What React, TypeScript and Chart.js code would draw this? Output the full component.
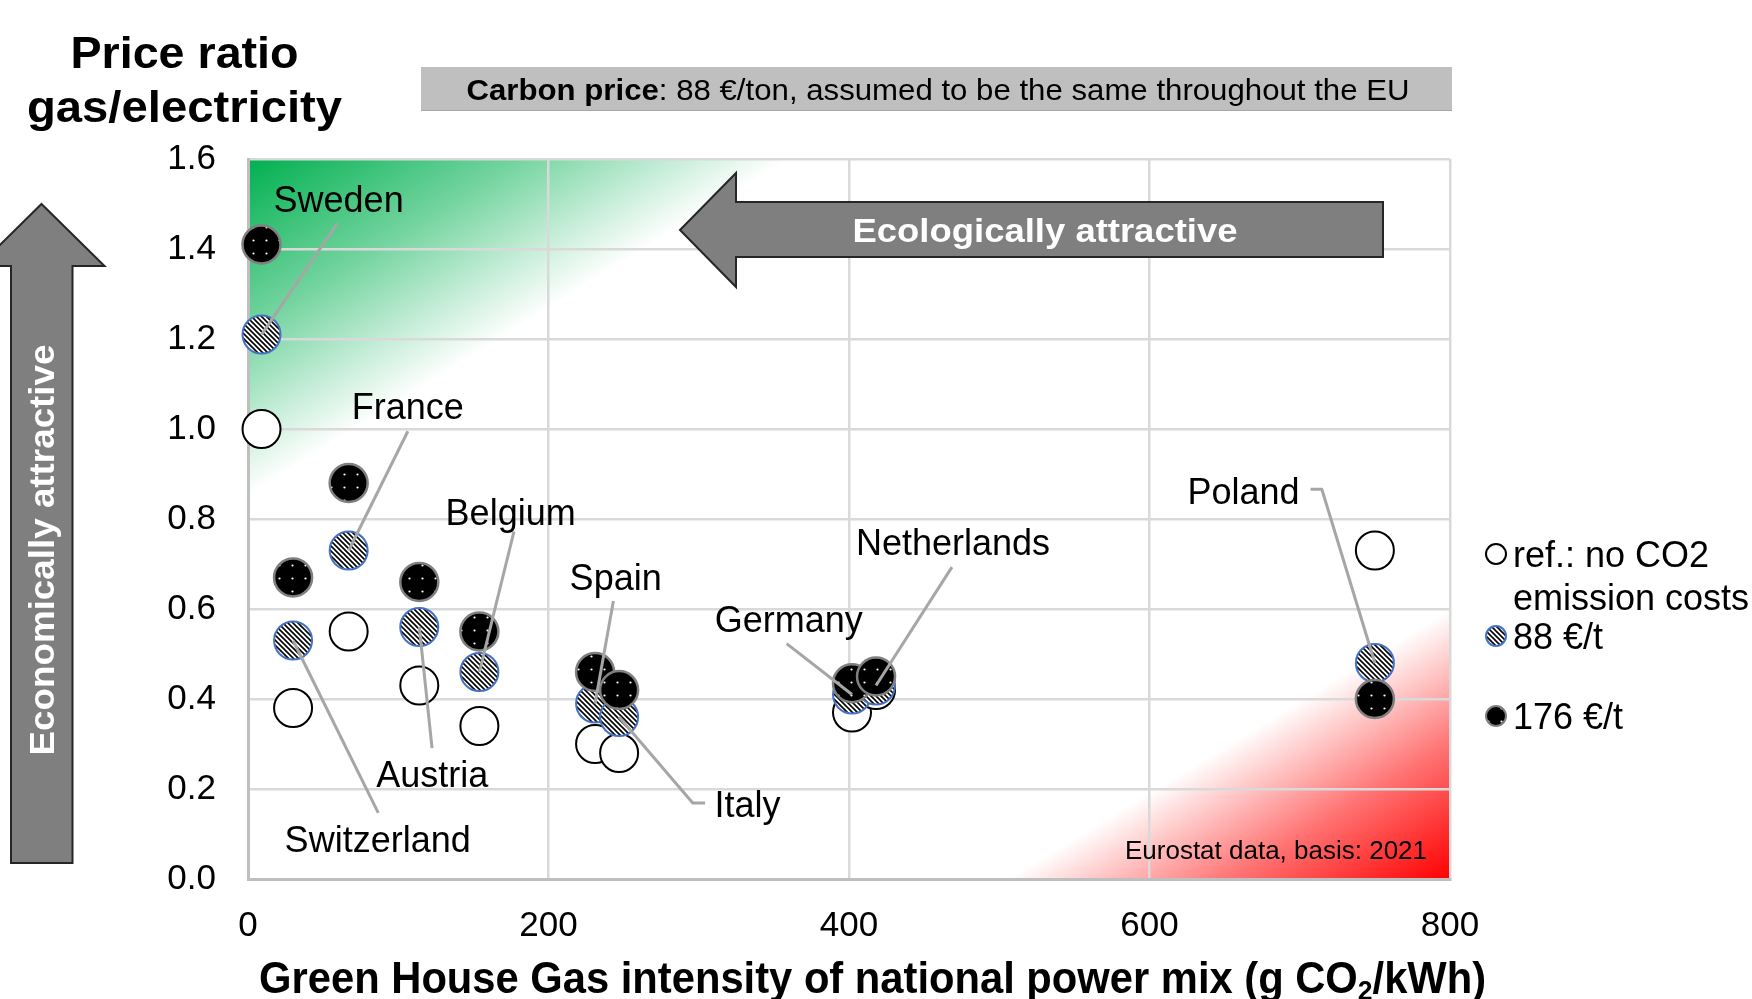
import React, { useEffect, useRef } from 'react';
import { Chart, registerables } from 'chart.js';

Chart.register(...registerables);

const FONT = '"Liberation Sans", Arial, Helvetica, sans-serif';

// ---- data ----
const countries = ['Sweden', 'Switzerland', 'France', 'Austria', 'Belgium', 'Spain', 'Italy', 'Germany', 'Netherlands', 'Poland'];
const ghgIntensity = [9, 30, 67, 114, 154, 231, 247, 402, 418, 750];
const ratioRef = [1.0, 0.38, 0.55, 0.43, 0.34, 0.3, 0.28, 0.37, 0.42, 0.73];
const ratio88 = [1.21, 0.53, 0.73, 0.56, 0.46, 0.39, 0.36, 0.41, 0.43, 0.48];
const ratio176 = [1.41, 0.67, 0.88, 0.66, 0.55, 0.46, 0.42, 0.435, 0.45, 0.4];
const xTicks = [0, 200, 400, 600, 800];
const yTicks = [0, 0.2, 0.4, 0.6, 0.8, 1.0, 1.2, 1.4, 1.6];

// label anchors (data units) and leader line vertices (data units), leader ends at the 88 €/t point
const labelX = [60.3, 86.3, 106.4, 122.7, 174.8, 244.7, 332.4, 359.9, 469.2, 662.6];
const labelY = [1.511, 0.089, 1.05, 0.233, 0.816, 0.672, 0.166, 0.578, 0.749, 0.861];
const leaderVerts: number[][][] = [
  [[59.5, 1.457]],
  [[86.7, 0.147]],
  [[106.4, 0.995]],
  [[122.5, 0.291]],
  [[177, 0.772]],
  [[243.2, 0.618]],
  [[304.2, 0.169], [296, 0.169]],
  [[358.5, 0.523]],
  [[468.5, 0.693]],
  [[707.2, 0.866], [714.7, 0.866]],
];

const legendLines = [['ref.: no CO2', 'emission costs'], ['88 €/t'], ['176 €/t']];

const TEXT_DY = 3;

function makeHatch(ctx: CanvasRenderingContext2D) {
  const c = document.createElement('canvas');
  c.width = 5; c.height = 5;
  const g = c.getContext('2d')!;
  g.fillStyle = '#fff'; g.fillRect(0, 0, 5, 5);
  g.strokeStyle = '#000'; g.lineWidth = 1.6;
  g.beginPath();
  g.moveTo(-1, -1); g.lineTo(6, 6);
  g.moveTo(4, -1); g.lineTo(6, 1);
  g.moveTo(-1, 4); g.lineTo(1, 6);
  g.stroke();
  return ctx.createPattern(c, 'repeat')!;
}

function makeDots(ctx: CanvasRenderingContext2D) {
  const c = document.createElement('canvas');
  c.width = 13; c.height = 13;
  const g = c.getContext('2d')!;
  g.fillStyle = '#000'; g.fillRect(0, 0, 13, 13);
  g.fillStyle = '#fff';
  g.beginPath(); g.arc(6.5, 6.5, 1.1, 0, Math.PI * 2); g.fill();
  return ctx.createPattern(c, 'repeat')!;
}

function fitText(ctx: CanvasRenderingContext2D, text: string, x: number, y: number, size: number, weight: string, color: string, width?: number, align: CanvasTextAlign = 'center', baseline: CanvasTextBaseline = 'middle') {
  ctx.save();
  ctx.font = `${weight} ${size}px ${FONT}`;
  ctx.fillStyle = color;
  ctx.textBaseline = baseline;
  ctx.textAlign = align;
  const w = ctx.measureText(text).width;
  const s = width ? width / w : 1;
  ctx.translate(x, y);
  ctx.scale(s, 1);
  ctx.fillText(text, 0, 0);
  ctx.restore();
}

type Piece = { t: string; size: number; weight: string; dy?: number };
function fitPieces(ctx: CanvasRenderingContext2D, pieces: Piece[], cx: number, y: number, width: number, color: string, baseline: CanvasTextBaseline) {
  ctx.save();
  ctx.fillStyle = color;
  ctx.textBaseline = baseline;
  ctx.textAlign = 'left';
  const ws = pieces.map((p) => { ctx.font = `${p.weight} ${p.size}px ${FONT}`; return ctx.measureText(p.t).width; });
  const total = ws.reduce((a, b) => a + b, 0);
  const s = width / total;
  ctx.translate(cx - width / 2, y);
  ctx.scale(s, 1);
  let x = 0;
  pieces.forEach((p, i) => {
    ctx.font = `${p.weight} ${p.size}px ${FONT}`;
    ctx.fillText(p.t, x, p.dy || 0);
    x += ws[i];
  });
  ctx.restore();
}

function cornerGradient(ctx: CanvasRenderingContext2D, C: number[], A: number[], B: number[], rgb: string) {
  const dx = B[0] - A[0], dy = B[1] - A[1];
  const t = ((C[0] - A[0]) * dx + (C[1] - A[1]) * dy) / (dx * dx + dy * dy);
  const F = [A[0] + t * dx, A[1] + t * dy];
  const g = ctx.createLinearGradient(C[0], C[1], F[0], F[1]);
  g.addColorStop(0, `rgba(${rgb},1)`);
  g.addColorStop(0.5, `rgba(${rgb},0.55)`);
  g.addColorStop(1, `rgba(${rgb},0)`);
  return g;
}

const decoPlugin = {
  id: 'deco',
  beforeDraw(chart: any) {
    const { ctx, chartArea: a, scales } = chart;
    const xs = scales.x, ys = scales.y;
    ctx.save();
    ctx.fillStyle = '#fff';
    ctx.fillRect(0, 0, chart.width, chart.height);
    const gG = cornerGradient(ctx, [a.left, a.top], [xs.getPixelForValue(360), a.top], [a.left, ys.getPixelForValue(0.85)], '0,176,80');
    ctx.fillStyle = gG;
    ctx.fillRect(a.left, a.top, a.right - a.left, a.bottom - a.top);
    const gR = cornerGradient(ctx, [a.right, a.bottom], [xs.getPixelForValue(505), a.bottom], [a.right, ys.getPixelForValue(0.6)], '255,0,0');
    ctx.fillStyle = gR;
    ctx.fillRect(a.left, a.top, a.right - a.left, a.bottom - a.top);
    ctx.restore();
  },
  afterDatasetsDraw(chart: any) {
    const { ctx, scales } = chart;
    const xs = scales.x, ys = scales.y;
    const meta88 = chart.getDatasetMeta(1);
    ctx.save();
    ctx.strokeStyle = '#a6a6a6';
    ctx.lineWidth = 3;
    ctx.lineJoin = 'round';
    leaderVerts.forEach((verts, i) => {
      const pt = meta88.data[i];
      ctx.beginPath();
      verts.forEach((v, k) => {
        const px = xs.getPixelForValue(v[0]), py = ys.getPixelForValue(v[1]);
        if (k === 0) ctx.moveTo(px, py); else ctx.lineTo(px, py);
      });
      ctx.lineTo(pt.x, pt.y);
      ctx.stroke();
    });
    ctx.restore();
    countries.forEach((name, i) => {
      fitText(ctx, name, xs.getPixelForValue(labelX[i]), ys.getPixelForValue(labelY[i]) + TEXT_DY, 36, 'normal', '#000');
    });
  },
  afterDraw(chart: any) {
    const { ctx } = chart;
    ctx.save();
    // Y title
    fitText(ctx, 'Price ratio', 184.5, 68, 45, 'bold', '#000', 228, 'center', 'alphabetic');
    fitText(ctx, 'gas/electricity', 184.5, 122, 45, 'bold', '#000', 315, 'center', 'alphabetic');
    // Carbon price box
    ctx.fillStyle = '#bfbfbf';
    ctx.fillRect(421, 67, 1031, 44);
    ctx.strokeStyle = '#a6a6a6';
    ctx.lineWidth = 1;
    ctx.beginPath(); ctx.moveTo(421, 110.5); ctx.lineTo(1452, 110.5); ctx.stroke();
    fitPieces(ctx, [
      { t: 'Carbon price', size: 29, weight: 'bold' },
      { t: ': 88 €/ton, assumed to be the same throughout the EU', size: 29, weight: 'normal' },
    ], 938, 89.5 + 2, 943, '#000', 'middle');
    // Ecological arrow (pointing left)
    ctx.fillStyle = '#7f7f7f';
    ctx.strokeStyle = '#262626';
    ctx.lineWidth = 2;
    ctx.beginPath();
    ctx.moveTo(680, 230);
    ctx.lineTo(736, 173);
    ctx.lineTo(736, 202);
    ctx.lineTo(1383, 202);
    ctx.lineTo(1383, 257);
    ctx.lineTo(736, 257);
    ctx.lineTo(736, 287);
    ctx.closePath();
    ctx.fill(); ctx.stroke();
    fitText(ctx, 'Ecologically attractive', 1045, 230 + TEXT_DY, 34, 'bold', '#fff', 385);
    // Economic arrow (pointing up)
    ctx.beginPath();
    ctx.moveTo(41.5, 204);
    ctx.lineTo(104.5, 266);
    ctx.lineTo(72.5, 266);
    ctx.lineTo(72.5, 863);
    ctx.lineTo(11, 863);
    ctx.lineTo(11, 266);
    ctx.lineTo(-21.5, 266);
    ctx.closePath();
    ctx.fill(); ctx.stroke();
    ctx.save();
    ctx.translate(41.8 + TEXT_DY, 550);
    ctx.rotate(-Math.PI / 2);
    fitText(ctx, 'Economically attractive', 0, 0, 35, 'bold', '#fff', 411);
    ctx.restore();
    // Eurostat note
    fitText(ctx, 'Eurostat data, basis: 2021', 1276, 850 + 2, 25, 'normal', '#000', 302);
    // X title with subscript
    fitPieces(ctx, [
      { t: 'Green House Gas intensity of national power mix (g CO', size: 44, weight: 'bold' },
      { t: '2', size: 28, weight: 'bold', dy: 7 },
      { t: '/kWh)', size: 44, weight: 'bold' },
    ], 872.6, 993, 1227, '#000', 'alphabetic');
    // Legend (drawn from datasets' styles)
    const order = [2, 1, 0];
    const ly = [554, 636, 716];
    order.forEach((di, k) => {
      const ds = chart.data.datasets[di];
      ctx.beginPath();
      ctx.arc(1496, ly[k], 10, 0, Math.PI * 2);
      ctx.fillStyle = ds.backgroundColor;
      ctx.fill();
      ctx.lineWidth = 2;
      ctx.strokeStyle = ds.borderColor;
      ctx.stroke();
      legendLines[k].forEach((line, j) => {
        fitText(ctx, line, 1513, ly[k] + j * 43 + TEXT_DY, 36, 'normal', '#000', undefined, 'left', 'middle');
      });
    });
    ctx.restore();
  },
};

export default function App() {
  const canvasRef = useRef<HTMLCanvasElement>(null);
  useEffect(() => {
    const canvas = canvasRef.current!;
    const ctx = canvas.getContext('2d')!;
    const hatch = makeHatch(ctx);
    const dots = makeDots(ctx);
    const pts = (vals: number[]) => ghgIntensity.map((x, i) => ({ x, y: vals[i] }));
    const tickFont = { family: FONT, size: 35 };
    const chart = new Chart(ctx, {
      type: 'scatter',
      data: {
        datasets: [
          { label: '176 €/t', data: pts(ratio176), backgroundColor: dots as any, borderColor: '#808080', borderWidth: 2.5, pointRadius: 19, pointHoverRadius: 19, clip: false as any },
          { label: '88 €/t', data: pts(ratio88), backgroundColor: hatch as any, borderColor: '#4472c4', borderWidth: 2, pointRadius: 19, pointHoverRadius: 19, clip: false as any },
          { label: 'ref.: no CO2 emission costs', data: pts(ratioRef), backgroundColor: '#ffffff', borderColor: '#000000', borderWidth: 2, pointRadius: 19, pointHoverRadius: 19, clip: false as any },
        ],
      },
      options: {
        responsive: false,
        devicePixelRatio: 1,
        animation: false,
        events: [],
        layout: { padding: { left: 0, right: 302, top: 159, bottom: 0 } },
        plugins: { legend: { display: false }, tooltip: { enabled: false }, title: { display: false } },
        scales: {
          x: {
            type: 'linear', min: 0, max: 800,
            afterBuildTicks: (s: any) => { s.ticks = xTicks.map((v) => ({ value: v })); },
            afterFit: (s: any) => { s.height = 120; },
            grid: { color: '#d9d9d9', lineWidth: 2.5, drawTicks: false },
            border: { color: '#bfbfbf', width: 3 },
            ticks: { font: tickFont, color: '#000', padding: 26, maxRotation: 0, callback: (v: any) => String(v) },
          },
          y: {
            type: 'linear', min: 0, max: 1.6,
            afterBuildTicks: (s: any) => { s.ticks = yTicks.map((v) => ({ value: v })); },
            afterFit: (s: any) => { s.width = 248; },
            grid: { color: '#d9d9d9', lineWidth: 2.5, drawTicks: false },
            border: { color: '#bfbfbf', width: 3 },
            ticks: { font: tickFont, color: '#000', padding: 32, callback: (v: any) => Number(v).toFixed(1) },
          },
        },
      },
      plugins: [decoPlugin],
    });
    return () => chart.destroy();
  }, []);
  return (
    <div style={{ position: 'fixed', left: 0, top: 0, width: 1752, height: 999, background: '#fff', overflow: 'hidden' }}>
      <canvas ref={canvasRef} width={1752} height={999} style={{ display: 'block', width: 1752, height: 999 }} />
    </div>
  );
}
